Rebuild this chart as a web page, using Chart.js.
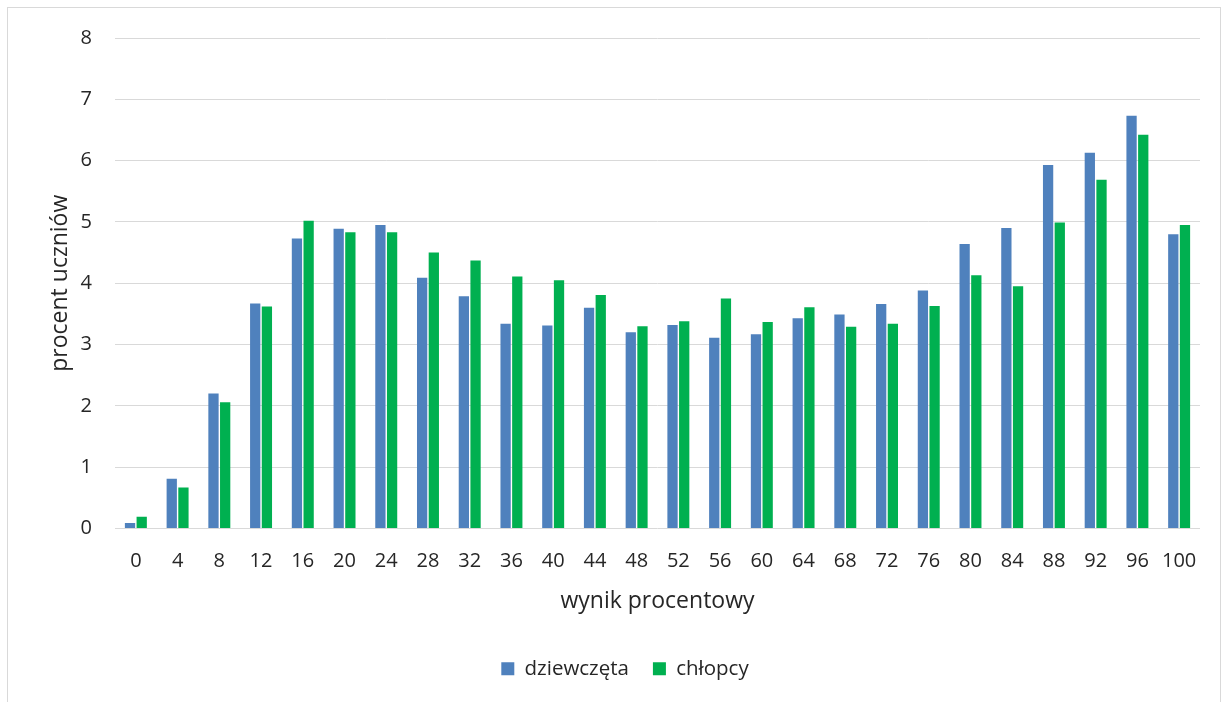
<!DOCTYPE html>
<html>
<head>
<meta charset="utf-8">
<script src="https://cdn.jsdelivr.net/npm/chart.js@4/dist/chart.umd.min.js"></script>
<style>
  html, body { margin: 0; padding: 0; background: #fff; }
  #wrap { position: relative; width: 1229px; height: 702px; overflow: hidden; }
  #frame {
    position: absolute; left: 7px; top: 7px; width: 1214px; height: 720px;
    border: 1px solid #d9d9d9; box-sizing: border-box;
  }
  #wrap canvas { position: absolute; left: 0; top: 0; }
</style>
</head>
<body>
<div id="wrap">
  <div id="frame"></div>
  <canvas id="chart" width="1229" height="702"></canvas>
</div>
<script>
// wynik procentowy (kategorie osi X)
const categories = ['0', '4', '8', '12', '16', '20', '24', '28', '32', '36', '40', '44', '48',
  '52', '56', '60', '64', '68', '72', '76', '80', '84', '88', '92', '96', '100'];

// procent uczniów – dziewczęta
const girls = [0.09, 0.81, 2.20, 3.67, 4.73, 4.89, 4.95, 4.09, 3.79, 3.34, 3.31, 3.60, 3.20,
  3.32, 3.11, 3.17, 3.43, 3.49, 3.66, 3.88, 4.64, 4.90, 5.93, 6.13, 6.73, 4.80];

// procent uczniów – chłopcy
const boys = [0.19, 0.67, 2.06, 3.62, 5.02, 4.83, 4.83, 4.50, 4.37, 4.11, 4.05, 3.81, 3.30,
  3.38, 3.75, 3.37, 3.61, 3.29, 3.34, 3.63, 4.13, 3.95, 4.99, 5.69, 6.42, 4.95];

const yTicks = [0, 1, 2, 3, 4, 5, 6, 7, 8];

const FONT = 'Open Sans';
const TEXT = '#262626';

// legenda w oryginale jest lekko przesunięta w prawo
const legendShift = {
  id: 'legendShift',
  afterLayout: (chart) => {
    const lg = chart.legend;
    if (!lg) return;
    lg.left += 20;
    lg.right += 20;
  }
};

const ctx = document.getElementById('chart').getContext('2d');

new Chart(ctx, {
  type: 'bar',
  data: {
    labels: categories,
    datasets: [
      {
        label: 'dziewczęta',
        data: girls,
        backgroundColor: '#4F81BD',
        borderWidth: 0,
        categoryPercentage: 0.56,
        barPercentage: 0.88,
      },
      {
        label: 'chłopcy',
        data: boys,
        backgroundColor: '#00B050',
        borderWidth: 0,
        categoryPercentage: 0.56,
        barPercentage: 0.88,
      }
    ]
  },
  options: {
    responsive: false,
    animation: false,
    layout: { padding: { left: 10, right: 29, top: 38, bottom: 13 } },
    plugins: {
      legend: {
        position: 'bottom',
        labels: {
          font: { family: FONT, size: 20.5 },
          color: TEXT,
          boxWidth: 13,
          boxHeight: 13,
          padding: 24,
        }
      },
      tooltip: { enabled: false },
    },
    scales: {
      x: {
        grid: { display: false, drawTicks: false },
        border: { display: false },
        ticks: {
          font: { family: FONT, size: 20 },
          color: TEXT,
          padding: 21,
          maxRotation: 0,
          autoSkip: false,
        },
        title: {
          display: true,
          text: 'wynik procentowy',
          font: { family: FONT, size: 23 },
          color: TEXT,
          padding: { top: 4, bottom: 19 },
        },
        afterFit: (scale) => { scale.height = 106; },
      },
      y: {
        min: 0,
        max: 8,
        grid: { color: '#d9d9d9', lineWidth: 1, drawTicks: false },
        border: { display: false },
        afterBuildTicks: (scale) => { scale.ticks = yTicks.map(v => ({ value: v })); },
        ticks: {
          font: { family: FONT, size: 20 },
          color: TEXT,
          padding: 23,
        },
        title: {
          display: true,
          text: 'procent uczniów',
          font: { family: FONT, size: 23 },
          color: TEXT,
          padding: { top: 37, bottom: 0 },
        },
        afterFit: (scale) => { scale.width = 105; },
      }
    }
  },
  plugins: [legendShift],
});
</script>
</body>
</html>
